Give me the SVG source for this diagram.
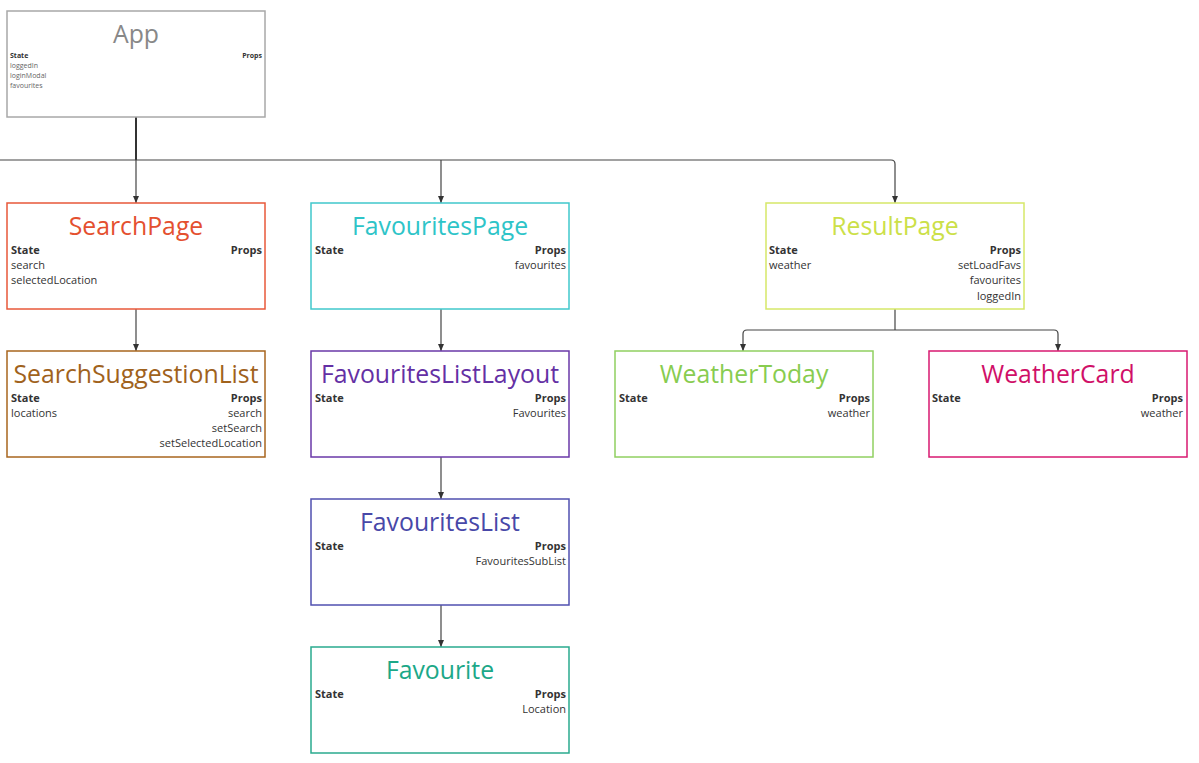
<svg xmlns="http://www.w3.org/2000/svg" width="1199" height="763" viewBox="0 0 1199 763">
<style>
.box{fill:#fff;stroke-width:1.5}
.title{font-family:"Open Sans","Noto Sans",sans-serif;font-size:24.8px;text-anchor:middle}
.lbl{font-family:"Open Sans","Noto Sans",sans-serif;font-size:11px;font-weight:bold;fill:#333}
.it{font-family:"Open Sans","Noto Sans",sans-serif;font-size:11px;fill:#333}
.r{text-anchor:end}
.sl{font-family:"Open Sans","Noto Sans",sans-serif;font-size:7px;font-weight:bold;fill:#333}
.si{font-family:"Open Sans","Noto Sans",sans-serif;font-size:7px;fill:#666}
.con{fill:none;stroke:#444;stroke-width:1.2}
</style>
<defs>
<marker id="ah" markerWidth="8" markerHeight="8" refX="7" refY="4" orient="auto" markerUnits="userSpaceOnUse">
<path d="M0,1 L7,4 L0,7 Z" fill="#333"/>
</marker>
</defs>
<rect width="1199" height="763" fill="#fff"/>
<g id="connectors">
<line x1="136" y1="117" x2="136" y2="160" stroke="#333" stroke-width="2"/>
<path class="con" d="M0,160 H891 Q895,160 895,164 V203" marker-end="url(#ah)"/>
<path class="con" d="M136,160 V203" marker-end="url(#ah)"/>
<path class="con" d="M441,160 V203" marker-end="url(#ah)"/>
<path class="con" d="M136,309 V351" marker-end="url(#ah)"/>
<path class="con" d="M441,309 V351" marker-end="url(#ah)"/>
<path class="con" d="M441,457 V499" marker-end="url(#ah)"/>
<path class="con" d="M441,605 V647" marker-end="url(#ah)"/>
<path class="con" d="M895,309 V330"/>
<path class="con" d="M895,330 H747 Q743,330 743,334 V351" marker-end="url(#ah)"/>
<path class="con" d="M895,330 H1054 Q1058,330 1058,334 V351" marker-end="url(#ah)"/>
</g>
<g id="App">
<rect class="box" x="7" y="11" width="258" height="106" stroke="#a8a8a8"/>
<text class="title" x="136" y="43" fill="#888" font-size="26">App</text>
<text class="sl" x="10" y="58">State</text>
<text class="sl r" x="262" y="58">Props</text>
<text class="si" x="10" y="68">loggedIn</text>
<text class="si" x="10" y="78">loginModal</text>
<text class="si" x="10" y="88">favourites</text>
</g>
<g id="SearchPage">
<rect class="box" x="7" y="203" width="258" height="106" stroke="#e8583a"/>
<text class="title" x="136" y="235" fill="#e4502f">SearchPage</text>
<text class="lbl" x="11" y="254">State</text>
<text class="lbl r" x="262" y="254">Props</text>
<text class="it" x="11" y="269">search</text>
<text class="it" x="11" y="284">selectedLocation</text>
</g>
<g id="SearchSuggestionList">
<rect class="box" x="7" y="351" width="258" height="106" stroke="#a8651e"/>
<text class="title" x="136" y="383" fill="#a0621c">SearchSuggestionList</text>
<text class="lbl" x="11" y="402">State</text>
<text class="lbl r" x="262" y="402">Props</text>
<text class="it" x="11" y="417">locations</text>
<text class="it r" x="262" y="417">search</text>
<text class="it r" x="262" y="432">setSearch</text>
<text class="it r" x="262" y="447">setSelectedLocation</text>
</g>
<g id="FavouritesPage">
<rect class="box" x="311" y="203" width="258" height="106" stroke="#40c8cc"/>
<text class="title" x="440" y="235" fill="#2ec4c8">FavouritesPage</text>
<text class="lbl" x="315" y="254">State</text>
<text class="lbl r" x="566" y="254">Props</text>
<text class="it r" x="566" y="269">favourites</text>
</g>
<g id="FavouritesListLayout">
<rect class="box" x="311" y="351" width="258" height="106" stroke="#6a38a8"/>
<text class="title" x="440" y="383" fill="#6430a4">FavouritesListLayout</text>
<text class="lbl" x="315" y="402">State</text>
<text class="lbl r" x="566" y="402">Props</text>
<text class="it r" x="566" y="417">Favourites</text>
</g>
<g id="FavouritesList">
<rect class="box" x="311" y="499" width="258" height="106" stroke="#5050b0"/>
<text class="title" x="440" y="531" fill="#4848a8">FavouritesList</text>
<text class="lbl" x="315" y="550">State</text>
<text class="lbl r" x="566" y="550">Props</text>
<text class="it r" x="566" y="565">FavouritesSubList</text>
</g>
<g id="Favourite">
<rect class="box" x="311" y="647" width="258" height="106" stroke="#2aaa8e"/>
<text class="title" x="440" y="679" fill="#1ca888">Favourite</text>
<text class="lbl" x="315" y="698">State</text>
<text class="lbl r" x="566" y="698">Props</text>
<text class="it r" x="566" y="713">Location</text>
</g>
<g id="ResultPage">
<rect class="box" x="766" y="203" width="258" height="106" stroke="#d6e868"/>
<text class="title" x="895" y="235" fill="#cce048">ResultPage</text>
<text class="lbl" x="769" y="254">State</text>
<text class="lbl r" x="1021" y="254">Props</text>
<text class="it" x="769" y="269">weather</text>
<text class="it r" x="1021" y="269">setLoadFavs</text>
<text class="it r" x="1021" y="284">favourites</text>
<text class="it r" x="1021" y="300">loggedIn</text>
</g>
<g id="WeatherToday">
<rect class="box" x="615" y="351" width="258" height="106" stroke="#90d060"/>
<text class="title" x="744" y="383" fill="#88cc50">WeatherToday</text>
<text class="lbl" x="619" y="402">State</text>
<text class="lbl r" x="870" y="402">Props</text>
<text class="it r" x="870" y="417">weather</text>
</g>
<g id="WeatherCard">
<rect class="box" x="929" y="351" width="258" height="106" stroke="#d81870"/>
<text class="title" x="1058" y="383" fill="#d01068">WeatherCard</text>
<text class="lbl" x="932" y="402">State</text>
<text class="lbl r" x="1183" y="402">Props</text>
<text class="it r" x="1183" y="417">weather</text>
</g>
</svg>
